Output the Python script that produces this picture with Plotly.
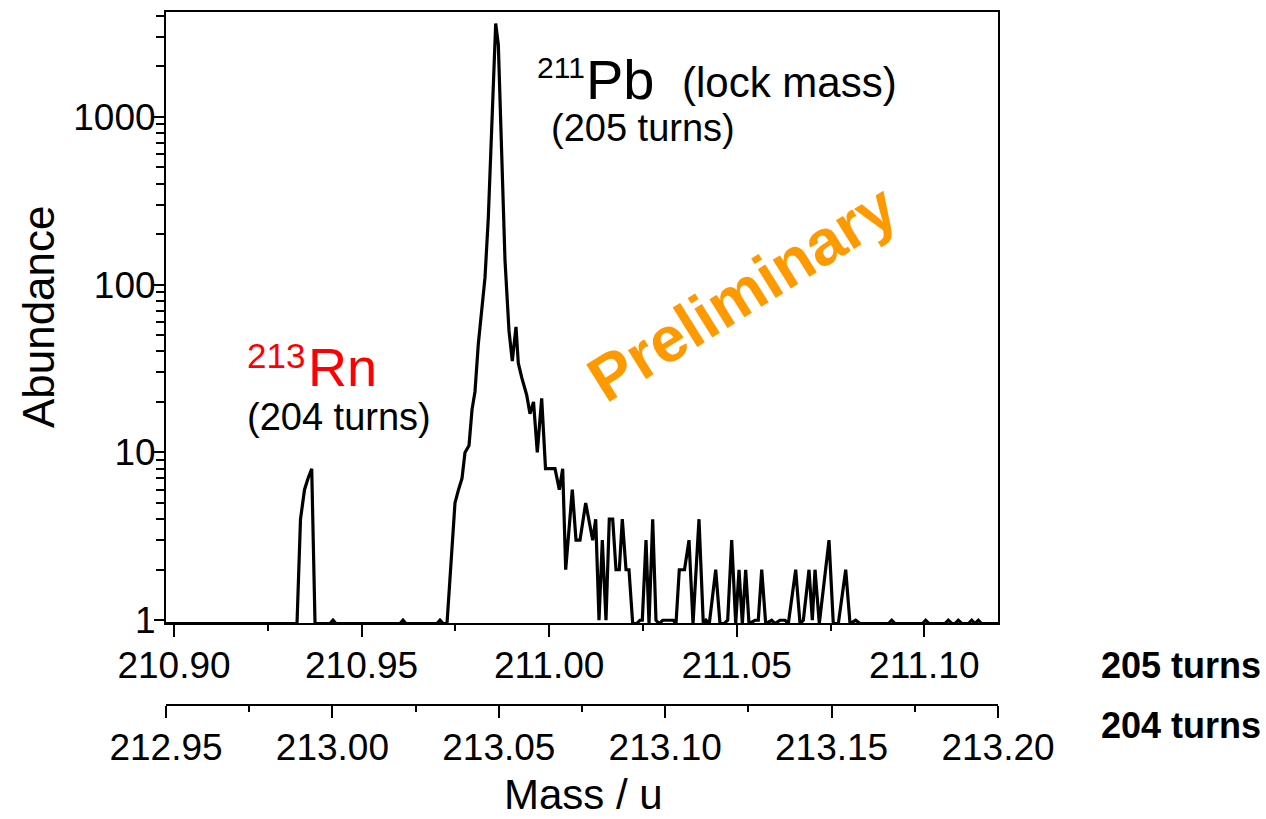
import plotly.graph_objects as go

# ---------------- data ----------------
# mass axis for 205 turns (u); abundance values (counts). Zero counts are drawn at the axis floor.
FLOOR = 0.955
mass_205 = [
    210.8979, 210.93279, 210.93372, 210.93479, 210.93572, 210.93671, 210.93759,
    210.94158, 210.94238, 210.94318, 210.96024, 210.96104, 210.96184,
    210.97011, 210.97091, 210.97171, 210.97277, 210.97490, 210.97584, 210.97677,
    210.97757, 210.97864, 210.97944, 210.98023, 210.98111, 210.98202, 210.98290,
    210.98378, 210.98469, 210.98575, 210.98645, 210.98735, 210.98823, 210.98930,
    210.99018, 210.99116, 210.99178, 210.99268, 210.99401, 210.99489, 210.99583,
    210.99684, 210.99801, 210.99903, 211.00156, 211.00271, 211.00361, 211.00441,
    211.00617, 211.00716, 211.00822, 211.00974, 211.01161, 211.01241, 211.01329,
    211.01417, 211.01515, 211.01603, 211.01694, 211.01782, 211.01870, 211.01950,
    211.02049, 211.02128, 211.02227, 211.02334, 211.02422, 211.02483, 211.02582,
    211.02662, 211.02760, 211.02848, 211.02936, 211.03027, 211.03309, 211.03381,
    211.03469, 211.03608, 211.03728, 211.03835, 211.03994, 211.04109, 211.04181,
    211.04269, 211.04440, 211.04554, 211.04661, 211.04759, 211.04866, 211.04973,
    211.05061, 211.05149, 211.05239, 211.05327, 211.05487, 211.05575, 211.05666,
    211.05772, 211.05932, 211.06020, 211.06154, 211.06287, 211.06375, 211.06572,
    211.06687, 211.06775, 211.06927, 211.07015, 211.07087, 211.07201, 211.07460,
    211.07574, 211.07708, 211.07905, 211.08020, 211.08171, 211.08286, 211.09046,
    211.09131, 211.09219, 211.09952, 211.10037, 211.10125, 211.10552, 211.10640,
    211.10739, 211.10819, 211.10907, 211.11005, 211.11178, 211.11264, 211.11352,
    211.11440, 211.11525, 211.12018,
]
abundance = [
    FLOOR, FLOOR, 4, 6, 7, 8, FLOOR,
    FLOOR, 1, FLOOR, FLOOR, 1, FLOOR,
    FLOOR, 1, FLOOR, FLOOR, 5, 6, 7,
    10, 11, 18, 23, 44, 70, 110,
    250, 850, 3600, 2700, 540, 140, 53,
    35, 56, 34, 28, 22, 17, 20,
    10, 21, 8, 8, 6, 8, 2,
    6, 3, 3, 5, 3, 4, 1,
    3, 1, 4, 4, 2, 2, 4,
    2, 2, FLOOR, FLOOR, 1, 1, 3,
    FLOOR, 4, 1, FLOOR, 1, 1, FLOOR,
    2, 2, 3, FLOOR, 4, FLOOR, 1,
    FLOOR, 2, FLOOR, FLOOR, 1, 3, FLOOR,
    2, FLOOR, 2, FLOOR, 1, 1, 2,
    FLOOR, 1, FLOOR, 1, 1, FLOOR, 2,
    FLOOR, 1, 2, 1, 2, FLOOR, 3,
    FLOOR, FLOOR, 2, FLOOR, 1, FLOOR, FLOOR,
    1, FLOOR, FLOOR, 1, FLOOR, FLOOR, 1,
    FLOOR, FLOOR, 1, FLOOR, FLOOR, 1, FLOOR,
    1, FLOOR, FLOOR,
]

x205_ticks = [210.90, 210.95, 211.00, 211.05, 211.10]
x205_labels = ["210.90", "210.95", "211.00", "211.05", "211.10"]
x205_minor = [210.925, 210.975, 211.025, 211.075]
x205_range = [210.897868, 211.119645]

x204_ticks = [212.95, 213.00, 213.05, 213.10, 213.15, 213.20]
x204_labels = ["212.95", "213.00", "213.05", "213.10", "213.15", "213.20"]
x204_minor = [212.975, 213.025, 213.075, 213.125, 213.175]
x204_range = [212.95, 213.20]

y_ticks = [1, 10, 100, 1000]
y_labels = ["1", "10", "100", "1000"]
y_minor = [2, 3, 4, 5, 6, 7, 8, 9, 20, 30, 40, 50, 60, 70, 80, 90,
           200, 300, 400, 500, 600, 700, 800, 900, 2000, 3000, 4000]
y_range_log = [-0.0178, 3.6245]

# ---------------- figure ----------------
W, H = 1266, 819
L, R, T, B = 166, 268, 10, 114
PW, PH = W - L - R, H - T - B
FONT = "Liberation Sans, Arial, Helvetica, sans-serif"


def px(x):
    return (x - L) / PW


def py(y):
    return (H - B - y) / PH


fig = go.Figure()
fig.add_trace(go.Scatter(
    x=mass_205, y=abundance, mode="lines",
    line=dict(color="black", width=3.2), showlegend=False, hoverinfo="skip",
))
fig.add_trace(go.Scatter(
    x=x204_ticks, y=[None] * len(x204_ticks), xaxis="x2", mode="lines",
    showlegend=False, hoverinfo="skip",
))

axis_common = dict(
    showline=True, linecolor="black", linewidth=2, ticks="outside",
    tickcolor="black", tickwidth=2, showgrid=False, zeroline=False,
    tickfont=dict(family=FONT, size=37, color="black"),
)

fig.update_layout(
    width=W, height=H,
    margin=dict(l=L, r=R, t=T, b=B, pad=0),
    plot_bgcolor="white", paper_bgcolor="white",
    font=dict(family=FONT, color="black"),
    showlegend=False,
    xaxis=dict(
        **axis_common, range=x205_range, tickmode="array",
        tickvals=x205_ticks, ticktext=x205_labels, ticklen=12,
        ticklabelstandoff=-4,
        mirror=True, anchor="y",
        minor=dict(tickvals=x205_minor, ticks="outside", ticklen=6,
                   tickwidth=2, tickcolor="black", showgrid=False),
    ),
    xaxis2=dict(
        **axis_common, range=x204_range, tickmode="array",
        tickvals=x204_ticks, ticktext=x204_labels, ticklen=12,
        ticklabelstandoff=-2,
        overlaying="x", anchor="free", position=0, side="bottom",
        minor=dict(tickvals=x204_minor, ticks="outside", ticklen=6,
                   tickwidth=2, tickcolor="black", showgrid=False),
    ),
    yaxis=dict(
        **axis_common, type="log", range=y_range_log, tickmode="array",
        tickvals=y_ticks, ticktext=y_labels, ticklen=10,
        ticklabelstandoff=-9,
        domain=[py(623), 1], mirror=True,
        minor=dict(tickvals=y_minor, ticks="outside", ticklen=8,
                   tickwidth=2, tickcolor="black", showgrid=False),
    ),
)


def ann(text, x, y, size, color="black", xanchor="left", yanchor="middle",
        angle=0, bold=False):
    fig.add_annotation(
        text=f"<b>{text}</b>" if bold else text,
        xref="paper", yref="paper", x=px(x), y=py(y),
        xanchor=xanchor, yanchor=yanchor, textangle=angle, showarrow=False,
        font=dict(family=FONT, size=size, color=color),
    )


# peak labels
ann("211", 535, 66, 30)
ann("Pb", 584, 78, 56)
ann("(lock mass)", 680, 81, 42)
ann("(205 turns)", 549, 126, 38)
ann("213", 245, 354, 35, color="#FF0000")
ann("Rn", 306, 366, 54, color="#FF0000")
ann("(204 turns)", 245, 416, 38)

# watermark
ann("Preliminary", 742, 292, 64, color="#FF9900", xanchor="center",
    angle=-32, bold=True)

# axis captions
ann("205 turns", 1181, 665, 36, xanchor="center", bold=True)
ann("204 turns", 1181, 726, 36, xanchor="center", bold=True)
ann("Abundance", 38, 316, 44, xanchor="center", angle=-90)
ann("Mass / u", 583, 795, 42, xanchor="center")

fig.write_html("out.html")
